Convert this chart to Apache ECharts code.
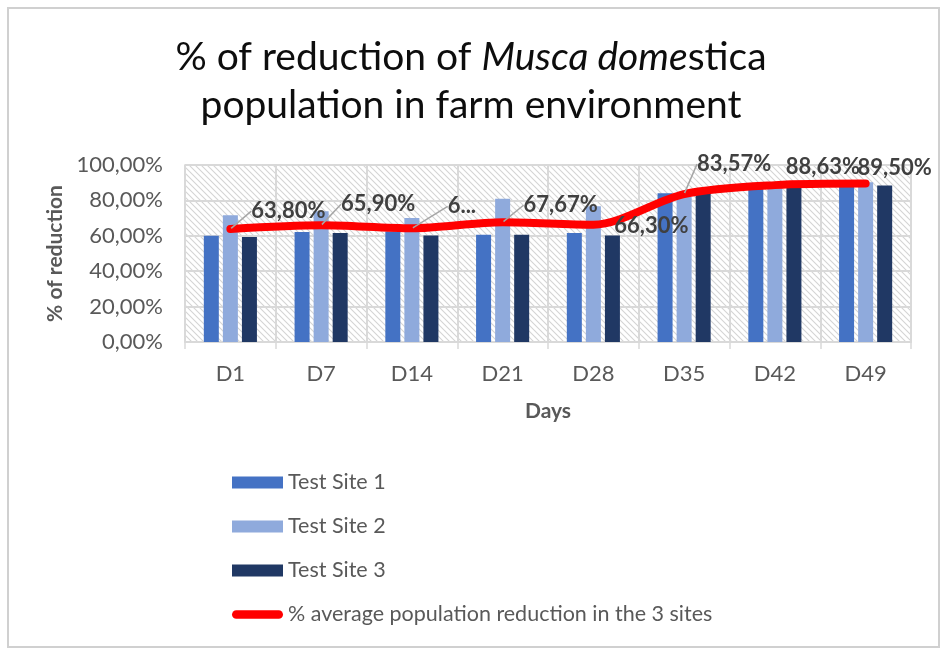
<!DOCTYPE html>
<html>
<head>
<meta charset="utf-8">
<script src="https://cdn.jsdelivr.net/npm/echarts@6/dist/echarts.min.js"></script>
<style>
  html, body { margin: 0; padding: 0; background: #fff; }
  #chart { width: 942px; height: 649px; }
</style>
</head>
<body>
<div id="chart"></div>
<script>
// ---- data ----
var days = ['D1', 'D7', 'D14', 'D21', 'D28', 'D35', 'D42', 'D49'];
var site1 = [60.0, 62.2, 62.5, 60.6, 61.6, 84.0, 87.8, 89.9];
var site2 = [71.6, 73.8, 70.1, 81.0, 76.7, 82.0, 90.0, 90.2];
var site3 = [59.3, 61.6, 60.1, 60.6, 60.1, 85.0, 88.1, 88.4];
var average = [63.80, 65.90, 64.23, 67.67, 66.30, 83.57, 88.63, 89.50];
var truncatedLabels = [2]; // label shown truncated as "6..." in the source
var yTicks = [0, 20, 40, 60, 80, 100];

// ---- label layout (offsets only) ----
var labelShift = [[58, -1], [57, -4], [50, -5], [58, 0], [58, 18], [50, -13], [48, -1], [29, 1]];
var noLeader = [4, 6, 7];

function pct(v) { return v.toFixed(2).replace('.', ',') + '%'; }

// hatch pattern
var pc = document.createElement('canvas');
pc.width = 6; pc.height = 6;
var g = pc.getContext('2d');
g.fillStyle = '#ffffff'; g.fillRect(0, 0, 6, 6);
g.strokeStyle = '#d4d4d4'; g.lineWidth = 1.1;
g.beginPath();
g.moveTo(-1, -1); g.lineTo(7, 7);
g.moveTo(-4, 2); g.lineTo(4, 10);
g.moveTo(2, -4); g.lineTo(10, 4);
g.stroke();

var FONT = 'Lato, "Open Sans", sans-serif';
var chart = echarts.init(document.getElementById('chart'));

var avgData = average.map(function (v, i) {
  var d = { value: v };
  if (noLeader.indexOf(i) >= 0) d.labelLine = { show: false };
  return d;
});

chart.setOption({
  backgroundColor: '#ffffff',
  animation: false,
  textStyle: { fontFamily: FONT },
  graphic: [{
    type: 'rect', shape: { x: 8, y: 8, width: 931, height: 639 },
    style: { fill: null, stroke: '#d0d0d0', lineWidth: 2 }, silent: true
  }],
  title: {
    left: 'center', top: 28,
    text: '% of reduction of {i|Musca dome}stica\npopulation in farm environment',
    textStyle: {
      fontFamily: FONT, fontSize: 39, fontWeight: 'normal', color: '#0d0d0d', lineHeight: 48,
      rich: { i: { fontFamily: FONT, fontSize: 39, fontStyle: 'italic', color: '#0d0d0d', lineHeight: 48 } }
    }
  },
  legend: {
    orient: 'vertical', left: 227, top: 466,
    itemWidth: 51, itemHeight: 12, itemGap: 21,
    textStyle: { fontFamily: FONT, fontSize: 21.5, color: '#595959', lineHeight: 23 },
    data: [
      { name: 'Test Site 1', icon: 'rect' },
      { name: 'Test Site 2', icon: 'rect' },
      { name: 'Test Site 3', icon: 'rect' },
      { name: '% average population reduction in the 3 sites',
        icon: 'path://M5,0 L55,0 A5,5 0 0 1 55,10 L5,10 A5,5 0 0 1 5,0 Z' }
    ]
  },
  grid: {
    left: 185, right: 31, top: 165, bottom: 307,
    show: true, borderColor: '#d9d9d9', borderWidth: 1.5,
    backgroundColor: { image: pc, repeat: 'repeat' }
  },
  xAxis: {
    type: 'category', data: days,
    name: 'Days', nameLocation: 'middle', nameGap: 59,
    nameTextStyle: { fontFamily: FONT, fontSize: 21, fontWeight: 'bold', color: '#595959' },
    axisLine: { lineStyle: { color: '#d9d9d9', width: 2 } },
    axisTick: { show: true, length: 7, lineStyle: { color: '#d9d9d9', width: 1.5 } },
    splitLine: { show: true, lineStyle: { color: '#d9d9d9', width: 2 } },
    axisLabel: { fontFamily: FONT, fontSize: 22, color: '#595959', margin: 21 }
  },
  yAxis: {
    type: 'value', min: yTicks[0], max: yTicks[yTicks.length - 1], interval: 20,
    name: '% of reduction', nameLocation: 'middle', nameGap: 117, nameRotate: 90,
    nameTextStyle: { fontFamily: FONT, fontSize: 21, fontWeight: 'bold', color: '#595959' },
    axisLine: { show: false }, axisTick: { show: false },
    splitLine: { show: true, lineStyle: { color: '#d9d9d9', width: 2 } },
    axisLabel: { fontFamily: FONT, fontSize: 22, color: '#595959', margin: 22, formatter: pct }
  },
  series: [
    { name: 'Test Site 1', type: 'bar', data: site1, barWidth: 15, barGap: '27%', itemStyle: { color: '#4472C4' }, z: 2 },
    { name: 'Test Site 2', type: 'bar', data: site2, barWidth: 15, barGap: '27%', itemStyle: { color: '#8FAADC' }, z: 2 },
    { name: 'Test Site 3', type: 'bar', data: site3, barWidth: 15, barGap: '27%', itemStyle: { color: '#203864' }, z: 2 },
    {
      name: '% average population reduction in the 3 sites', type: 'line', data: avgData,
      smooth: 0.3, symbol: 'circle', symbolSize: 2, showSymbol: true, z: 5,
      lineStyle: { color: '#ff0000', width: 8, cap: 'round', join: 'round' },
      itemStyle: { color: '#ff0000' },
      label: {
        show: true, position: 'top', fontFamily: FONT, fontSize: 22, fontWeight: 'bold', color: '#404040',
        formatter: function (p) {
          var s = pct(p.value);
          return truncatedLabels.indexOf(p.dataIndex) >= 0 ? s.charAt(0) + '...' : s;
        }
      },
      labelLine: { show: true, lineStyle: { color: '#a6a6a6', width: 1.5 } },
      labelLayout: function (p) {
        var s = labelShift[p.dataIndex];
        return { dx: s[0], dy: s[1] };
      }
    }
  ]
});
</script>
</body>
</html>
